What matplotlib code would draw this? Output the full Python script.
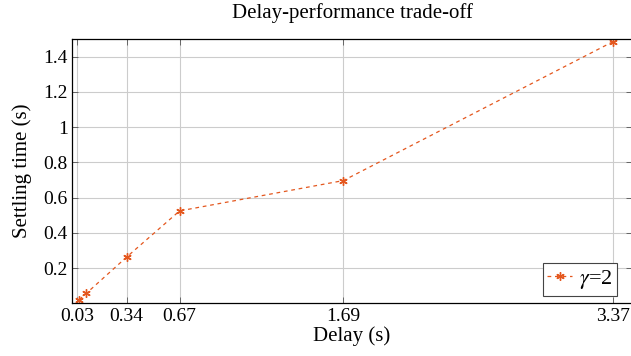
import matplotlib
matplotlib.use("Agg")
import matplotlib.pyplot as plt

delay = [0.045, 0.09, 0.34, 0.67, 1.69, 3.37]
settling = [0.022, 0.058, 0.263, 0.525, 0.697, 1.485]
xticks = [0.03, 0.34, 0.67, 1.69, 3.37]
xtick_labels = ["0.03", "0.34", "0.67", "1.69", "3.37"]
yticks = [0.2, 0.4, 0.6, 0.8, 1.0, 1.2, 1.4]
ytick_labels = ["0.2", "0.4", "0.6", "0.8", "1", "1.2", "1.4"]

plt.rcParams['font.family'] = ['Liberation Serif', 'DejaVu Serif']
plt.rcParams['mathtext.fontset'] = 'stix'

fig = plt.figure(figsize=(6.31, 3.56), dpi=100)
ax = fig.add_axes([0.1141, 0.1475, 0.8875, 0.743])
color = '#e4571e'
ax.plot(delay, settling, linestyle=(0, (3, 3)), color=color, linewidth=0.9,
        marker=(6, 2, 0), markersize=6, markeredgewidth=1.0, label=r'$\gamma$=2')
ax.set_xlim(0, 3.488)
ax.set_ylim(0, 1.5)
ax.set_xticks(xticks)
ax.set_xticklabels(xtick_labels)
ax.set_yticks(yticks)
ax.set_yticklabels(ytick_labels)
ax.grid(True, color='#cccccc', linewidth=0.8)
ax.set_axisbelow(True)
ax.tick_params(labelsize=14, length=4, width=0.6, direction='in', color='#555555',
               top=True, right=True, pad=3)
for s in ax.spines.values():
    s.set_linewidth(0.9)
ax.set_xlabel('Delay (s)', fontsize=15, labelpad=1)
ax.set_ylabel('Settling time (s)', fontsize=15, labelpad=8)
ax.set_title('Delay-performance trade-off', fontsize=15, pad=15)
leg = ax.legend(loc='lower right', bbox_to_anchor=(0.9732, 0.028), borderaxespad=0,
                fontsize=16, frameon=True, fancybox=False, framealpha=1,
                edgecolor='#444444', handlelength=1.1, handletextpad=0.3,
                borderpad=0.22)
leg.get_frame().set_linewidth(0.8)
fig.savefig('out.png', dpi=100)
